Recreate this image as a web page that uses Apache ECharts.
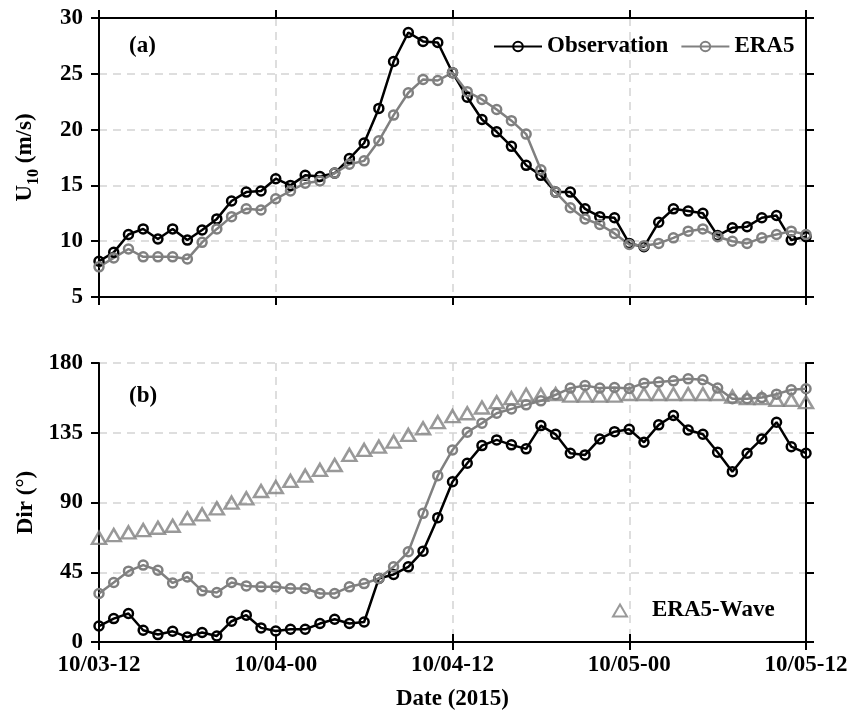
<!DOCTYPE html>
<html>
<head>
<meta charset="utf-8">
<script src="https://cdn.jsdelivr.net/npm/echarts@6/dist/echarts.min.js"></script>
<style>
  html, body { margin: 0; padding: 0; background: #fff; }
  #chart { width: 860px; height: 721px; }
</style>
</head>
<body>
<div id="chart"></div>
<script>
// Hourly time axis, 10/03 12:00 to 10/05 12:00 (2015)
const hours = [];
for (let d = 3; d <= 5; d++) {
  for (let h = 0; h < 24; h++) {
    if ((d === 3 && h < 12) || (d === 5 && h > 12)) continue;
    hours.push('10/0' + d + '-' + (h < 10 ? '0' + h : '' + h));
  }
}
const tickLabels = ['10/03-12', '10/04-00', '10/04-12', '10/05-00', '10/05-12'];

// 10 m wind speed (m/s)
const obsSpeed = [8.2, 9.0, 10.6, 11.1, 10.2, 11.1, 10.1, 11.0, 12.0, 13.6,
  14.4, 14.5, 15.6, 15.0, 15.9, 15.8, 16.1, 17.4, 18.8, 21.9,
  26.1, 28.7, 27.9, 27.8, 25.1, 22.9, 20.9, 19.8, 18.5, 16.8,
  15.9, 14.4, 14.4, 12.9, 12.2, 12.1, 9.8, 9.5, 11.7, 12.9,
  12.7, 12.5, 10.5, 11.2, 11.3, 12.1, 12.3, 10.1, 10.4];
const era5Speed = [7.7, 8.5, 9.3, 8.6, 8.6, 8.6, 8.4, 9.9, 11.1, 12.2,
  12.9, 12.8, 13.8, 14.5, 15.2, 15.4, 16.1, 16.9, 17.2, 19.0,
  21.3, 23.3, 24.5, 24.4, 25.1, 23.4, 22.7, 21.8, 20.8, 19.6,
  16.4, 14.4, 13.0, 12.0, 11.5, 10.7, 9.7, 9.6, 9.8, 10.3,
  10.9, 11.1, 10.4, 10.0, 9.8, 10.3, 10.6, 10.9, 10.6];

// Direction (degrees)
const obsDir = [10.3, 15.1, 18.4, 7.6, 4.8, 6.9, 3.2, 6.1, 3.9, 13.4,
  17.3, 9.1, 7.1, 8.2, 8.2, 11.9, 14.7, 11.9, 12.9, 41.0,
  43.6, 48.5, 58.6, 80.2, 103.4, 115.3, 126.7, 130.4, 127.2, 124.6,
  139.6, 134.0, 121.8, 120.7, 131.0, 135.7, 137.2, 128.9, 140.1, 146.1,
  136.8, 134.0, 122.4, 109.9, 121.8, 131.0, 141.8, 126.0, 121.8];
const era5Dir = [31.3, 38.4, 45.7, 49.6, 46.3, 38.1, 42.0, 33.0, 31.9, 38.4,
  36.2, 35.6, 35.6, 34.5, 34.5, 31.3, 31.3, 35.6, 37.7, 41.0,
  48.5, 58.2, 83.0, 107.3, 123.9, 135.3, 141.2, 147.6, 150.4, 153.0,
  155.6, 159.5, 163.8, 165.5, 163.8, 164.2, 163.6, 167.0, 167.7, 168.5,
  169.8, 169.2, 163.8, 156.9, 156.9, 157.7, 159.9, 162.7, 163.4];
const waveDir = [67.2, 69.0, 70.7, 72.2, 73.7, 75.0, 79.8, 82.3, 86.2, 89.9,
  92.7, 97.4, 100.0, 103.9, 107.3, 111.0, 114.2, 120.7, 123.9, 126.0,
  129.3, 133.6, 137.9, 141.8, 145.7, 147.6, 151.3, 154.7, 157.3, 159.5,
  159.5, 160.0, 159.0, 159.0, 159.0, 159.0, 160.0, 160.0, 160.0, 160.0,
  160.0, 160.0, 160.0, 158.4, 157.3, 157.3, 156.2, 156.2, 154.7];

const FONT = 'Liberation Serif, Times New Roman, serif';
const GRAY = '#808080';
const every12 = (i) => i % 12 === 0;
const txt = { fontFamily: FONT, fontWeight: 'bold', fontSize: 23, color: '#000' };
const axLine = { show: true, lineStyle: { color: '#000', width: 2 } };
const axTick = { show: true, inside: false, length: 8, lineStyle: { color: '#000', width: 2 } };
const dashed = { show: true, lineStyle: { color: '#d4d4d4', width: 1.5, type: [8, 6] } };

function xAx(grid, pos, withLabels, extra) {
  return Object.assign({
    type: 'category', gridIndex: grid, position: pos, data: hours, boundaryGap: false,
    axisLine: axLine,
    axisTick: Object.assign({ interval: every12 }, axTick),
    axisLabel: withLabels ? Object.assign({ interval: every12, margin: 12,
      formatter: (v, i) => tickLabels[i / 12] }, txt) : { show: false },
    splitLine: pos === 'bottom' ? Object.assign({ interval: every12 }, dashed) : { show: false }
  }, extra || {});
}
function yAx(grid, pos, min, max, step, extra) {
  return Object.assign({
    type: 'value', gridIndex: grid, position: pos, min: min, max: max, interval: step,
    axisLine: axLine, axisTick: axTick,
    axisLabel: pos === 'left' ? Object.assign({ margin: 16 }, txt) : { show: false },
    splitLine: pos === 'left' ? dashed : { show: false }
  }, extra || {});
}
function circleSeries(name, data, color, xi, yi) {
  return {
    name: name, type: 'line', xAxisIndex: xi, yAxisIndex: yi, data: data,
    symbol: 'circle', symbolSize: 9, showSymbol: true,
    lineStyle: { color: color, width: 2.5 },
    itemStyle: { color: 'rgba(255,255,255,0)', borderColor: color, borderWidth: 2.5 }
  };
}

const chart = echarts.init(document.getElementById('chart'));
chart.setOption({
  animation: false,
  backgroundColor: '#fff',
  grid: [
    { left: 99, right: 54, top: 18, height: 279 },
    { left: 99, right: 54, top: 363, height: 279 }
  ],
  xAxis: [
    xAx(0, 'bottom', false),
    xAx(0, 'top', false),
    xAx(1, 'bottom', true, { name: 'Date (2015)', nameLocation: 'middle', nameGap: 46, nameTextStyle: txt }),
    xAx(1, 'top', false)
  ],
  yAxis: [
    yAx(0, 'left', 5, 30, 5, {
      name: '{u|U}{s|10}{u| (m/s)}', nameLocation: 'middle', nameGap: 57, nameRotate: 90,
      nameTextStyle: {
        rich: {
          u: Object.assign({ verticalAlign: 'top', lineHeight: 28 }, txt),
          s: { fontFamily: FONT, fontWeight: 'bold', fontSize: 16, color: '#000', verticalAlign: 'bottom' }
        }
      }
    }),
    yAx(0, 'right', 5, 30, 5),
    yAx(1, 'left', 0, 180, 45, { name: 'Dir (°)', nameLocation: 'middle', nameGap: 59, nameRotate: 90, nameTextStyle: txt }),
    yAx(1, 'right', 0, 180, 45)
  ],
  legend: [
    {
      data: ['Observation', 'ERA5'], left: 488, top: 30, itemWidth: 48, itemHeight: 12, itemGap: 12,
      textStyle: txt, selectedMode: false
    },
    {
      data: [{ name: 'ERA5-Wave', icon: 'triangle' }], left: 607, top: 594, itemWidth: 14, itemHeight: 12,
      textStyle: Object.assign({ padding: [0, 0, 0, 20] }, txt), selectedMode: false
    }
  ],
  graphic: [
    { type: 'text', left: 129, top: 35, style: { text: '(a)', font: 'bold 23px ' + FONT, fill: '#000' } },
    { type: 'text', left: 129, top: 385, style: { text: '(b)', font: 'bold 23px ' + FONT, fill: '#000' } }
  ],
  series: [
    circleSeries('Observation', obsSpeed, '#000', 0, 0),
    circleSeries('ERA5', era5Speed, GRAY, 0, 0),
    circleSeries('Observation', obsDir, '#000', 2, 2),
    circleSeries('ERA5', era5Dir, GRAY, 2, 2),
    {
      name: 'ERA5-Wave', type: 'scatter', xAxisIndex: 2, yAxisIndex: 2, data: waveDir,
      symbol: 'triangle', symbolSize: [14, 12],
      itemStyle: { color: 'rgba(255,255,255,0)', borderColor: GRAY, borderWidth: 2.5 }
    }
  ]
});
</script>
</body>
</html>
